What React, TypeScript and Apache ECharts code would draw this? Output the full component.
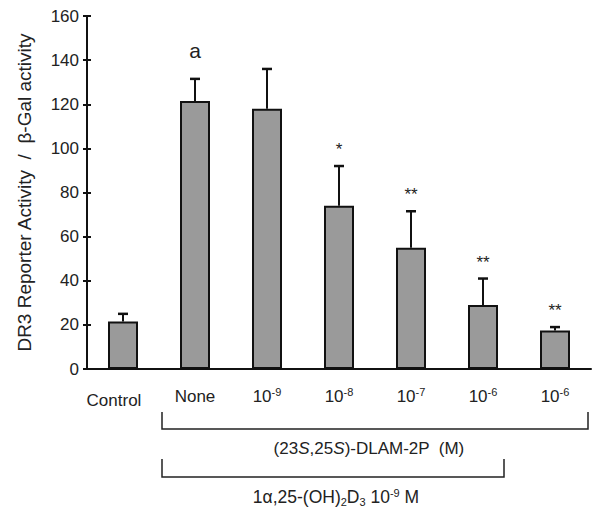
import React, { useEffect, useRef } from "react";
import * as echarts from "echarts";

const categories = ["Control", "None", "10^-9", "10^-8", "10^-7", "10^-6", "10^-6"];
const means = [21.5, 121.5, 118, 74, 55, 29, 17.5];
const errors = [3.5, 10, 18, 18, 16.5, 12, 1.5];
const marks = ["", "a", "", "*", "**", "**", "**"];
const yTicks = { min: 0, max: 160, interval: 20 };
const yTitle = "DR3 Reporter Activity  /  β-Gal activity";

const FONT = "'Liberation Sans', Arial, Helvetica, sans-serif";

function fmtCategory(v: string) {
  if (v.startsWith("10^")) {
    return "{b|10}{sup|" + v.slice(3) + "}";
  }
  if (v === "Control") return "{c|" + v + "}";
  return "{b|" + v + "}";
}

export default function App() {
  const ref = useRef<HTMLDivElement>(null);
  useEffect(() => {
    if (!ref.current) return;
    const chart = echarts.init(ref.current, undefined, { renderer: "svg" });
    const errData = means.map((m, i) => [i, m, m + errors[i], marks[i]]);
    const option: any = {
      animation: false,
      textStyle: { fontFamily: FONT },
      grid: { left: 87, right: 11, top: 16, bottom: 149, containLabel: false },
      xAxis: {
        type: "category",
        data: categories,
        boundaryGap: true,
        axisLine: { lineStyle: { color: "#111", width: 2 } },
        axisTick: { show: false },
        axisLabel: {
          margin: 17,
          interval: 0,
          formatter: fmtCategory,
          rich: {
            b: { fontSize: 17, color: "#222", fontFamily: FONT, lineHeight: 20 },
            c: { fontSize: 17, color: "#222", fontFamily: FONT, lineHeight: 20, padding: [8, 18, 0, 0] },
            sup: { fontSize: 11, color: "#222", fontFamily: FONT, padding: [0, 0, 9, 0] },
          },
        },
      },
      yAxis: [
        {
          type: "value",
          ...yTicks,
          name: yTitle,
          nameLocation: "middle",
          nameGap: 53,
          nameTextStyle: { fontSize: 19, color: "#222", fontFamily: FONT },
          axisLine: { show: true, lineStyle: { color: "#111", width: 2 } },
          axisTick: { show: true, length: 4, lineStyle: { color: "#111", width: 2 } },
          axisLabel: { fontSize: 17, color: "#222", margin: 8, fontFamily: FONT },
          splitLine: { show: false },
        },
        {
          type: "value",
          ...yTicks,
          position: "left",
          axisLine: { show: false },
          axisTick: { show: true, inside: true, length: 4, lineStyle: { color: "#111", width: 2 } },
          axisLabel: { show: false },
          splitLine: { show: false },
        },
      ],
      series: [
        {
          type: "bar",
          data: means,
          barWidth: 30,
          itemStyle: { color: "#9a9a9a", borderColor: "#111", borderWidth: 2 },
          z: 3,
        },
        {
          type: "custom",
          data: errData,
          z: 2,
          renderItem: (params: any, api: any) => {
            const i = api.value(0);
            const base = api.coord([i, api.value(1)]);
            const top = api.coord([i, api.value(2)]);
            const mark = marks[params.dataIndex];
            const children: any[] = [
              {
                type: "line",
                shape: { x1: base[0], y1: base[1], x2: top[0], y2: top[1] },
                style: { stroke: "#111", lineWidth: 2 },
              },
              {
                type: "line",
                shape: { x1: top[0] - 5, y1: top[1], x2: top[0] + 5, y2: top[1] },
                style: { stroke: "#111", lineWidth: 2.5 },
              },
            ];
            if (mark) {
              const isA = mark === "a";
              children.push({
                type: "text",
                x: top[0],
                y: top[1] - (isA ? 18 : 8),
                style: {
                  text: mark,
                  fontSize: isA ? 21 : 17,
                  fontFamily: FONT,
                  fill: "#222",
                  align: "center",
                  verticalAlign: "bottom",
                },
              });
            }
            return { type: "group", children };
          },
        },
      ],
    };
    chart.setOption(option);

    const px = (i: number) => chart.convertToPixel({ xAxisIndex: 0 }, i) as number;
    const b1x1 = px(1) - 33;
    const b1x2 = px(6) + 33;
    const b2x1 = px(1) - 33;
    const b2x2 = px(5) + 21;
    chart.setOption({
      graphic: [
        {
          type: "polyline",
          shape: { points: [[b1x1, 412], [b1x1, 429], [b1x2, 429], [b1x2, 412]] },
          style: { stroke: "#222", lineWidth: 1.5, fill: null },
        },
        {
          type: "text",
          x: (b1x1 + b1x2) / 2 - 6,
          y: 448,
          style: {
            text: "{n|(23}{i|S}{n|,25}{i|S}{n|)-DLAM-2P  (M)}",
            align: "center",
            verticalAlign: "middle",
            rich: {
              n: { fontSize: 17, fontFamily: FONT, fill: "#222" },
              i: { fontSize: 17, fontFamily: FONT, fontStyle: "italic", fill: "#222" },
            },
          },
        },
        {
          type: "polyline",
          shape: { points: [[b2x1, 459], [b2x1, 477], [b2x2, 477], [b2x2, 459]] },
          style: { stroke: "#222", lineWidth: 1.5, fill: null },
        },
        {
          type: "text",
          x: (b2x1 + b2x2) / 2 + 3,
          y: 497,
          style: {
            text: "{n|1α,25-(OH)}{sub|2}{n|D}{sub|3}{n| 10}{sup|-9}{n| M}",
            align: "center",
            verticalAlign: "middle",
            rich: {
              n: { fontSize: 17.5, fontFamily: FONT, fill: "#222", lineHeight: 22 },
              sub: { fontSize: 11, fontFamily: FONT, fill: "#222", padding: [9, 0, 0, 0] },
              sup: { fontSize: 11, fontFamily: FONT, fill: "#222", padding: [0, 0, 9, 0] },
            },
          },
        },
      ],
    });
    return () => chart.dispose();
  }, []);
  return (
    <div
      ref={ref}
      style={{ position: "fixed", left: 0, top: 0, width: 602, height: 518, background: "#fff" }}
    />
  );
}
